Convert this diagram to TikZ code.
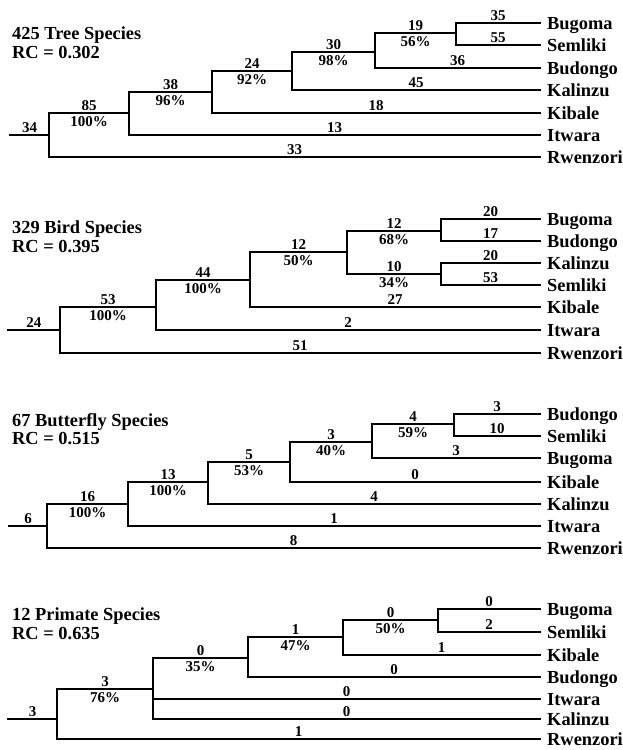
\documentclass[tikz,border=0pt]{standalone}
\usepackage{fontspec}
\setmainfont{Liberation Serif}
\tikzset{
  branchline/.style={line width=2.1pt, line cap=rect, color=black},
  leafname/.style={anchor=west, inner xsep=7pt, inner ysep=0pt,
    text height=12.4pt, text depth=0pt,
    font=\fontsize{18.4}{18.4}\selectfont\bfseries},
  steplen/.style={above=1.5pt, inner sep=0pt,
    font=\fontsize{15}{15}\selectfont\bfseries},
  support/.style={below=2.5pt, inner sep=0pt,
    font=\fontsize{15}{15}\selectfont\bfseries},
  titletext/.style={anchor=base west, inner sep=0pt,
    font=\fontsize{18.4}{18.4}\selectfont\bfseries},
}

\begin{document}
\begin{tikzpicture}[x=1pt, y=-1pt]
\path[use as bounding box, fill=white] (0,0) rectangle (622,750);

% ---- trees
\node[titletext] (tr-title) at (12,39) {425 Tree Species};
\node[titletext] (tr-rc) at (12,58) {RC = 0.302};
\coordinate (tr-start) at (10,135);
\coordinate (tr-root) at (49,135);
\coordinate (tr-n1) at (129,113);
\coordinate (tr-n2) at (212,92);
\coordinate (tr-n3) at (292,71);
\coordinate (tr-n4) at (375,52);
\coordinate (tr-n5) at (456,33);
\node[leafname] (tr-bugoma) at (540,23) {Bugoma};
\node[leafname] (tr-semliki) at (540,45) {Semliki};
\node[leafname] (tr-budongo) at (540,68) {Budongo};
\node[leafname] (tr-kalinzu) at (540,90) {Kalinzu};
\node[leafname] (tr-kibale) at (540,113) {Kibale};
\node[leafname] (tr-itwara) at (540,135) {Itwara};
\node[leafname] (tr-rwenzori) at (540,157) {Rwenzori};
\draw[branchline] (tr-start) -- node[steplen] {34} (tr-root);
\draw[branchline] (tr-root |- tr-n1) -- (tr-root |- tr-rwenzori);
\draw[branchline] (tr-root |- tr-n1) -- node[steplen] {85} node[support] {100\%} (tr-n1);
\draw[branchline] (tr-root |- tr-rwenzori) -- node[steplen] {33} (tr-rwenzori);
\draw[branchline] (tr-n1 |- tr-n2) -- (tr-n1 |- tr-itwara);
\draw[branchline] (tr-n1 |- tr-n2) -- node[steplen] {38} node[support] {96\%} (tr-n2);
\draw[branchline] (tr-n1 |- tr-itwara) -- node[steplen] {13} (tr-itwara);
\draw[branchline] (tr-n2 |- tr-n3) -- (tr-n2 |- tr-kibale);
\draw[branchline] (tr-n2 |- tr-n3) -- node[steplen] {24} node[support] {92\%} (tr-n3);
\draw[branchline] (tr-n2 |- tr-kibale) -- node[steplen] {18} (tr-kibale);
\draw[branchline] (tr-n3 |- tr-n4) -- (tr-n3 |- tr-kalinzu);
\draw[branchline] (tr-n3 |- tr-n4) -- node[steplen] {30} node[support] {98\%} (tr-n4);
\draw[branchline] (tr-n3 |- tr-kalinzu) -- node[steplen] {45} (tr-kalinzu);
\draw[branchline] (tr-n4 |- tr-n5) -- (tr-n4 |- tr-budongo);
\draw[branchline] (tr-n4 |- tr-n5) -- node[steplen] {19} node[support] {56\%} (tr-n5);
\draw[branchline] (tr-n4 |- tr-budongo) -- node[steplen] {36} (tr-budongo);
\draw[branchline] (tr-n5 |- tr-bugoma) -- (tr-n5 |- tr-semliki);
\draw[branchline] (tr-n5 |- tr-bugoma) -- node[steplen] {35} (tr-bugoma);
\draw[branchline] (tr-n5 |- tr-semliki) -- node[steplen] {55} (tr-semliki);

% ---- birds
\node[titletext] (bd-title) at (12,233) {329 Bird Species};
\node[titletext] (bd-rc) at (12,252) {RC = 0.395};
\coordinate (bd-start) at (8,330);
\coordinate (bd-root) at (60,330);
\coordinate (bd-n1) at (156,307);
\coordinate (bd-n2) at (250,280);
\coordinate (bd-n3) at (347,252);
\coordinate (bd-n4) at (441,231);
\coordinate (bd-n5) at (441,274);
\node[leafname] (bd-bugoma) at (540,219) {Bugoma};
\node[leafname] (bd-budongo) at (540,241) {Budongo};
\node[leafname] (bd-kalinzu) at (540,263) {Kalinzu};
\node[leafname] (bd-semliki) at (540,285) {Semliki};
\node[leafname] (bd-kibale) at (540,307) {Kibale};
\node[leafname] (bd-itwara) at (540,330) {Itwara};
\node[leafname] (bd-rwenzori) at (540,353) {Rwenzori};
\draw[branchline] (bd-start) -- node[steplen] {24} (bd-root);
\draw[branchline] (bd-root |- bd-n1) -- (bd-root |- bd-rwenzori);
\draw[branchline] (bd-root |- bd-n1) -- node[steplen] {53} node[support] {100\%} (bd-n1);
\draw[branchline] (bd-root |- bd-rwenzori) -- node[steplen] {51} (bd-rwenzori);
\draw[branchline] (bd-n1 |- bd-n2) -- (bd-n1 |- bd-itwara);
\draw[branchline] (bd-n1 |- bd-n2) -- node[steplen] {44} node[support] {100\%} (bd-n2);
\draw[branchline] (bd-n1 |- bd-itwara) -- node[steplen] {2} (bd-itwara);
\draw[branchline] (bd-n2 |- bd-n3) -- (bd-n2 |- bd-kibale);
\draw[branchline] (bd-n2 |- bd-n3) -- node[steplen] {12} node[support] {50\%} (bd-n3);
\draw[branchline] (bd-n2 |- bd-kibale) -- node[steplen] {27} (bd-kibale);
\draw[branchline] (bd-n3 |- bd-n4) -- (bd-n3 |- bd-n5);
\draw[branchline] (bd-n3 |- bd-n4) -- node[steplen] {12} node[support] {68\%} (bd-n4);
\draw[branchline] (bd-n3 |- bd-n5) -- node[steplen] {10} node[support] {34\%} (bd-n5);
\draw[branchline] (bd-n4 |- bd-bugoma) -- (bd-n4 |- bd-budongo);
\draw[branchline] (bd-n4 |- bd-bugoma) -- node[steplen] {20} (bd-bugoma);
\draw[branchline] (bd-n4 |- bd-budongo) -- node[steplen] {17} (bd-budongo);
\draw[branchline] (bd-n5 |- bd-kalinzu) -- (bd-n5 |- bd-semliki);
\draw[branchline] (bd-n5 |- bd-kalinzu) -- node[steplen] {20} (bd-kalinzu);
\draw[branchline] (bd-n5 |- bd-semliki) -- node[steplen] {53} (bd-semliki);

% ---- butterflies
\node[titletext] (bf-title) at (12,426) {67 Butterfly Species};
\node[titletext] (bf-rc) at (12,444) {RC = 0.515};
\coordinate (bf-start) at (9,526);
\coordinate (bf-root) at (47,526);
\coordinate (bf-n1) at (128,504);
\coordinate (bf-n2) at (208,482);
\coordinate (bf-n3) at (290,462);
\coordinate (bf-n4) at (372,442);
\coordinate (bf-n5) at (454,424);
\node[leafname] (bf-budongo) at (540,414) {Budongo};
\node[leafname] (bf-semliki) at (540,436) {Semliki};
\node[leafname] (bf-bugoma) at (540,458) {Bugoma};
\node[leafname] (bf-kibale) at (540,482) {Kibale};
\node[leafname] (bf-kalinzu) at (540,504) {Kalinzu};
\node[leafname] (bf-itwara) at (540,526) {Itwara};
\node[leafname] (bf-rwenzori) at (540,548) {Rwenzori};
\draw[branchline] (bf-start) -- node[steplen] {6} (bf-root);
\draw[branchline] (bf-root |- bf-n1) -- (bf-root |- bf-rwenzori);
\draw[branchline] (bf-root |- bf-n1) -- node[steplen] {16} node[support] {100\%} (bf-n1);
\draw[branchline] (bf-root |- bf-rwenzori) -- node[steplen] {8} (bf-rwenzori);
\draw[branchline] (bf-n1 |- bf-n2) -- (bf-n1 |- bf-itwara);
\draw[branchline] (bf-n1 |- bf-n2) -- node[steplen] {13} node[support] {100\%} (bf-n2);
\draw[branchline] (bf-n1 |- bf-itwara) -- node[steplen] {1} (bf-itwara);
\draw[branchline] (bf-n2 |- bf-n3) -- (bf-n2 |- bf-kalinzu);
\draw[branchline] (bf-n2 |- bf-n3) -- node[steplen] {5} node[support] {53\%} (bf-n3);
\draw[branchline] (bf-n2 |- bf-kalinzu) -- node[steplen] {4} (bf-kalinzu);
\draw[branchline] (bf-n3 |- bf-n4) -- (bf-n3 |- bf-kibale);
\draw[branchline] (bf-n3 |- bf-n4) -- node[steplen] {3} node[support] {40\%} (bf-n4);
\draw[branchline] (bf-n3 |- bf-kibale) -- node[steplen] {0} (bf-kibale);
\draw[branchline] (bf-n4 |- bf-n5) -- (bf-n4 |- bf-bugoma);
\draw[branchline] (bf-n4 |- bf-n5) -- node[steplen] {4} node[support] {59\%} (bf-n5);
\draw[branchline] (bf-n4 |- bf-bugoma) -- node[steplen] {3} (bf-bugoma);
\draw[branchline] (bf-n5 |- bf-budongo) -- (bf-n5 |- bf-semliki);
\draw[branchline] (bf-n5 |- bf-budongo) -- node[steplen] {3} (bf-budongo);
\draw[branchline] (bf-n5 |- bf-semliki) -- node[steplen] {10} (bf-semliki);

% ---- primates
\node[titletext] (pr-title) at (12,620) {12 Primate Species};
\node[titletext] (pr-rc) at (12,639) {RC = 0.635};
\coordinate (pr-start) at (8,719);
\coordinate (pr-root) at (57,719);
\coordinate (pr-n1) at (153,689);
\coordinate (pr-n2) at (248,658);
\coordinate (pr-n3) at (343,637);
\coordinate (pr-n4) at (438,620);
\node[leafname] (pr-bugoma) at (540,609) {Bugoma};
\node[leafname] (pr-semliki) at (540,632) {Semliki};
\node[leafname] (pr-kibale) at (540,655) {Kibale};
\node[leafname] (pr-budongo) at (540,677) {Budongo};
\node[leafname] (pr-itwara) at (540,699) {Itwara};
\node[leafname] (pr-kalinzu) at (540,719) {Kalinzu};
\node[leafname] (pr-rwenzori) at (540,739) {Rwenzori};
\draw[branchline] (pr-start) -- node[steplen] {3} (pr-root);
\draw[branchline] (pr-root |- pr-n1) -- (pr-root |- pr-rwenzori);
\draw[branchline] (pr-root |- pr-n1) -- node[steplen] {3} node[support] {76\%} (pr-n1);
\draw[branchline] (pr-root |- pr-rwenzori) -- node[steplen] {1} (pr-rwenzori);
\draw[branchline] (pr-n1 |- pr-n2) -- (pr-n1 |- pr-kalinzu);
\draw[branchline] (pr-n1 |- pr-n2) -- node[steplen] {0} node[support] {35\%} (pr-n2);
\draw[branchline] (pr-n1 |- pr-itwara) -- node[steplen] {0} (pr-itwara);
\draw[branchline] (pr-n1 |- pr-kalinzu) -- node[steplen] {0} (pr-kalinzu);
\draw[branchline] (pr-n2 |- pr-n3) -- (pr-n2 |- pr-budongo);
\draw[branchline] (pr-n2 |- pr-n3) -- node[steplen] {1} node[support] {47\%} (pr-n3);
\draw[branchline] (pr-n2 |- pr-budongo) -- node[steplen] {0} (pr-budongo);
\draw[branchline] (pr-n3 |- pr-n4) -- (pr-n3 |- pr-kibale);
\draw[branchline] (pr-n3 |- pr-n4) -- node[steplen] {0} node[support] {50\%} (pr-n4);
\draw[branchline] (pr-n3 |- pr-kibale) -- node[steplen] {1} (pr-kibale);
\draw[branchline] (pr-n4 |- pr-bugoma) -- (pr-n4 |- pr-semliki);
\draw[branchline] (pr-n4 |- pr-bugoma) -- node[steplen] {0} (pr-bugoma);
\draw[branchline] (pr-n4 |- pr-semliki) -- node[steplen] {2} (pr-semliki);
\end{tikzpicture}
\end{document}
